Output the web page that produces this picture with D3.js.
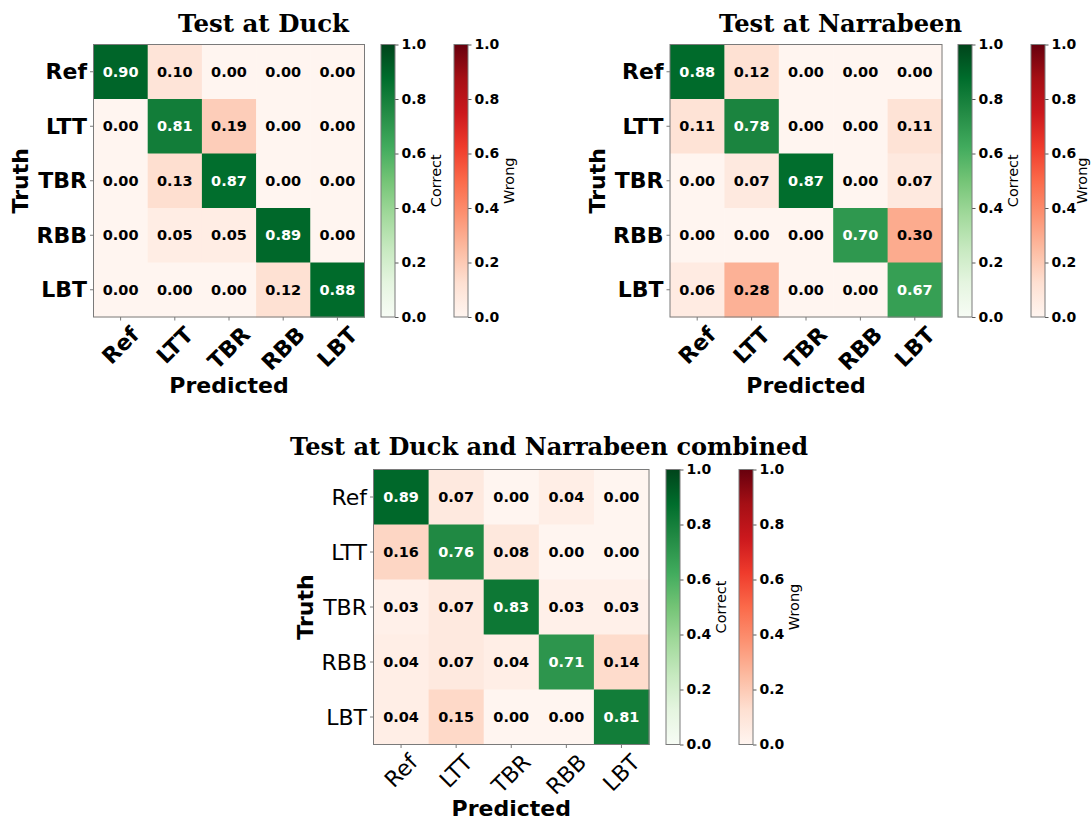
<!DOCTYPE html>
<html>
<head>
<meta charset="utf-8">
<script src="https://cdn.jsdelivr.net/npm/d3@7"></script>
<style>
  html, body { margin: 0; padding: 0; background: #fff; }
  svg { display: block; }
</style>
</head>
<body>
<svg id="fig" width="1091" height="821"></svg>
<script>
// Class labels (rows = truth, columns = predicted)
const categories = ["Ref", "LTT", "TBR", "RBB", "LBT"];

// Normalised confusion matrices
const duckMatrix = [
  [0.90, 0.10, 0.00, 0.00, 0.00],
  [0.00, 0.81, 0.19, 0.00, 0.00],
  [0.00, 0.13, 0.87, 0.00, 0.00],
  [0.00, 0.05, 0.05, 0.89, 0.00],
  [0.00, 0.00, 0.00, 0.12, 0.88]
];
const narrabeenMatrix = [
  [0.88, 0.12, 0.00, 0.00, 0.00],
  [0.11, 0.78, 0.00, 0.00, 0.11],
  [0.00, 0.07, 0.87, 0.00, 0.07],
  [0.00, 0.00, 0.00, 0.70, 0.30],
  [0.06, 0.28, 0.00, 0.00, 0.67]
];
const combinedMatrix = [
  [0.89, 0.07, 0.00, 0.04, 0.00],
  [0.16, 0.76, 0.08, 0.00, 0.00],
  [0.03, 0.07, 0.83, 0.03, 0.03],
  [0.04, 0.07, 0.04, 0.71, 0.14],
  [0.04, 0.15, 0.00, 0.00, 0.81]
];

const colorbarTicks = [0, 0.2, 0.4, 0.6, 0.8, 1.0];
const titles = ["Test at Duck", "Test at Narrabeen", "Test at Duck and Narrabeen combined"];

// Sequential maps: linear RGB interpolation through the 9-class ColorBrewer ramps
const stops9 = d3.range(9).map(i => i / 8);
const greens = d3.scaleLinear().domain(stops9).range(d3.schemeGreens[9]).interpolate(d3.interpolateRgb).clamp(true);
const reds = d3.scaleLinear().domain(stops9).range(d3.schemeReds[9]).interpolate(d3.interpolateRgb).clamp(true);

const svg = d3.select("#fig");
const defs = svg.append("defs");
const SANS = "DejaVu Sans, Verdana, sans-serif";
const SERIF = "DejaVu Serif, Liberation Serif, serif";
const SPINE = "#7a7a7a";

// Panel layout
const layout = [
  { data: duckMatrix, title: titles[0], x0: 93.5, x1: 364.5, y0: 44.5, y1: 317,
    titleX: 263.5, titleY: 32, titleW: 171, boldTicks: true, cbG: 381, cbR: 454,
    xlabY: 393, truthX: 28, wrongOff: 41 },
  { data: narrabeenMatrix, title: titles[1], x0: 670, x1: 942, y0: 44.5, y1: 317,
    titleX: 840.5, titleY: 32, titleW: 243, boldTicks: true, cbG: 958, cbR: 1031,
    xlabY: 393, truthX: 605, wrongOff: 37 },
  { data: combinedMatrix, title: titles[2], x0: 373.5, x1: 649, y0: 469.5, y1: 744.5,
    titleX: 549, titleY: 455, titleW: 518, boldTicks: false, cbG: 666, cbR: 739,
    xlabY: 816, truthX: 313, wrongOff: 41 }
];

function gradient(id, scale) {
  const g = defs.append("linearGradient").attr("id", id)
    .attr("x1", 0).attr("y1", 1).attr("x2", 0).attr("y2", 0);
  g.selectAll("stop").data(stops9).join("stop")
    .attr("offset", d => d)
    .attr("stop-color", d => scale(d));
}
gradient("gradGreens", greens);
gradient("gradReds", reds);

function drawColorbar(g, x, y0, y1, gradId, label, labelOff) {
  const w = 14;
  const cy = d3.scaleLinear().domain([0, 1]).range([y1, y0]);
  g.append("rect").attr("x", x).attr("y", y0).attr("width", w).attr("height", y1 - y0)
    .attr("fill", `url(#${gradId})`);
  const ax = g.append("g").attr("transform", `translate(${x + w},0)`)
    .call(d3.axisRight(cy).tickValues(colorbarTicks).tickSize(3.5).tickPadding(3).tickFormat(d3.format(".1f")));
  ax.select(".domain").remove();
  ax.selectAll(".tick line").attr("stroke", "#444").attr("stroke-width", 0.9);
  ax.selectAll(".tick text")
    .attr("font-family", SANS).attr("font-weight", "bold").attr("font-size", 14)
    .attr("fill", "#000");
  g.append("rect").attr("x", x).attr("y", y0).attr("width", w).attr("height", y1 - y0)
    .attr("fill", "none").attr("stroke", SPINE).attr("stroke-width", 1);
  g.append("text")
    .attr("transform", `translate(${x + w + labelOff},${(y0 + y1) / 2}) rotate(-90)`)
    .attr("text-anchor", "middle").attr("dominant-baseline", "central")
    .attr("font-family", SANS).attr("font-size", 14.5).attr("fill", "#000")
    .text(label);
}

layout.forEach(p => {
  const g = svg.append("g");
  const x = d3.scaleBand().domain(categories).range([p.x0, p.x1]);
  const y = d3.scaleBand().domain(categories).range([p.y0, p.y1]);

  // cells
  const cells = [];
  p.data.forEach((row, i) => row.forEach((v, j) => cells.push({ r: categories[i], c: categories[j], v, diag: i === j })));
  g.selectAll("rect.cell").data(cells).join("rect").attr("class", "cell")
    .attr("x", d => x(d.c)).attr("y", d => y(d.r))
    .attr("width", x.bandwidth() + 0.5).attr("height", y.bandwidth() + 0.5)
    .attr("fill", d => d.diag ? greens(d.v) : reds(d.v));

  // value annotations
  g.selectAll("text.val").data(cells).join("text").attr("class", "val")
    .attr("x", d => x(d.c) + x.bandwidth() / 2)
    .attr("y", d => y(d.r) + y.bandwidth() / 2)
    .attr("text-anchor", "middle").attr("dominant-baseline", "central")
    .attr("font-family", SANS).attr("font-weight", "bold").attr("font-size", 14.5)
    .attr("fill", d => d.v > 0.5 ? "#ffffff" : "#000000")
    .text(d => d3.format(".2f")(d.v));

  // spines
  g.append("rect").attr("x", p.x0).attr("y", p.y0)
    .attr("width", p.x1 - p.x0).attr("height", p.y1 - p.y0)
    .attr("fill", "none").attr("stroke", SPINE).attr("stroke-width", 1);

  const tickWeight = p.boldTicks ? "bold" : "normal";

  // y axis (truth)
  const ay = g.append("g").attr("transform", `translate(${p.x0},0)`)
    .call(d3.axisLeft(y).tickSize(3.5).tickPadding(3));
  ay.select(".domain").remove();
  ay.selectAll(".tick line").attr("stroke", SPINE);
  ay.selectAll(".tick text").attr("font-family", SANS).attr("font-weight", tickWeight)
    .attr("font-size", 22).attr("fill", "#000").attr("dy", null).attr("dominant-baseline", "central");

  // x axis (predicted) with 45-degree labels
  const ax = g.append("g").attr("transform", `translate(0,${p.y1})`)
    .call(d3.axisBottom(x).tickSize(3.5).tickFormat(""));
  ax.select(".domain").remove();
  ax.selectAll(".tick line").attr("stroke", SPINE);
  categories.forEach(c => {
    const t = g.append("text")
      .attr("text-anchor", "middle").attr("dominant-baseline", "central")
      .attr("font-family", SANS).attr("font-weight", tickWeight).attr("font-size", 22)
      .attr("fill", "#000").text(c);
    const w = t.node().getComputedTextLength();
    const h = 22 * 0.75;
    const ext = (w + h) / Math.SQRT2;
    t.attr("transform", `translate(${x(c) + x.bandwidth() / 2},${p.y1 + 8 + ext / 2}) rotate(-45)`);
  });

  // axis titles
  g.append("text").attr("x", (p.x0 + p.x1) / 2).attr("y", p.xlabY)
    .attr("text-anchor", "middle").attr("font-family", SANS).attr("font-weight", "bold")
    .attr("font-size", 22).attr("fill", "#000").text("Predicted");
  g.append("text")
    .attr("transform", `translate(${p.truthX},${(p.y0 + p.y1) / 2}) rotate(-90)`)
    .attr("text-anchor", "middle").attr("font-family", SANS).attr("font-weight", "bold")
    .attr("font-size", 22).attr("fill", "#000").text("Truth");

  // panel title
  g.append("text").attr("x", p.titleX).attr("y", p.titleY)
    .attr("text-anchor", "middle").attr("font-family", SERIF).attr("font-weight", "bold")
    .attr("font-size", 24).attr("fill", "#000")
    .attr("textLength", p.titleW).attr("lengthAdjust", "spacingAndGlyphs")
    .text(p.title);

  drawColorbar(g, p.cbG, p.y0, p.y1, "gradGreens", "Correct", 41);
  drawColorbar(g, p.cbR, p.y0, p.y1, "gradReds", "Wrong", p.wrongOff);
});
</script>
</body>
</html>
